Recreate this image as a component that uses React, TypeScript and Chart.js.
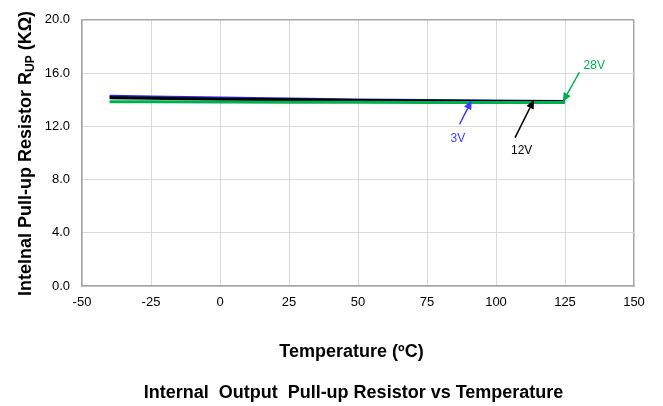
import { useEffect, useRef } from "react";
import { Chart, registerables } from "chart.js";

Chart.register(...registerables);

const FONT = '"Liberation Sans", Arial, sans-serif';

// Data (temperature in °C, resistance in kΩ)
const temperatures = [-40, -25, 0, 25, 50, 75, 100, 125];
const r3V = [14.25, 14.2, 14.12, 14.05, 13.98, 13.93, 13.89, 13.86];
const r12V = [14.15, 14.1, 14.04, 13.99, 13.94, 13.9, 13.87, 13.85];
const r28V = [13.85, 13.84, 13.82, 13.81, 13.8, 13.79, 13.78, 13.78];

const seriesNames = ["3V", "12V", "28V"];
const seriesColors = ["#2a2ad6", "#000000", "#00b050"];
const labelColors = ["#3c3cff", "#000000", "#00b050"];
const drawOrder = [3, 2, 1];

// Annotation callouts in data coordinates: label position, arrow tail, arrow tip
const labelX = [86.2, 109.3, 135.6];
const labelY = [11.08, 10.16, 16.56];
const tailX = [86.8, 106.9, 130.2];
const tailY = [12.15, 11.15, 16.06];
const tipX = [91.2, 113.8, 124.2];
const tipY = [13.95, 14.0, 13.83];

const xMin = -50, xMax = 150, xStep = 25;
const yMin = 0, yMax = 20, yStep = 4;

const yTitleMain = "Intelnal Pull-up Resistor R";
const yTitleSub = "UP";
const yTitleEnd = " (KΩ)";
const xTitle = "Temperature (ºC)";
const chartTitle = "Internal  Output  Pull-up Resistor vs Temperature";

const overlayPlugin = {
  id: "overlay",
  afterDatasetsDraw(chart: any) {
    const ctx = chart.ctx;
    const xs = chart.scales.x;
    const ys = chart.scales.y;
    ctx.save();
    for (let i = 0; i < seriesNames.length; i++) {
      const x1 = xs.getPixelForValue(tailX[i]);
      const y1 = ys.getPixelForValue(tailY[i]);
      const x2 = xs.getPixelForValue(tipX[i]);
      const y2 = ys.getPixelForValue(tipY[i]);
      const ang = Math.atan2(y2 - y1, x2 - x1);
      const head = 9;
      const hw = 4;
      const bx = x2 - head * Math.cos(ang);
      const by = y2 - head * Math.sin(ang);
      ctx.strokeStyle = labelColors[i];
      ctx.fillStyle = labelColors[i];
      ctx.lineWidth = 1.5;
      ctx.beginPath();
      ctx.moveTo(x1, y1);
      ctx.lineTo(bx, by);
      ctx.stroke();
      ctx.beginPath();
      ctx.moveTo(x2, y2);
      ctx.lineTo(bx + hw * Math.sin(ang), by - hw * Math.cos(ang));
      ctx.lineTo(bx - hw * Math.sin(ang), by + hw * Math.cos(ang));
      ctx.closePath();
      ctx.fill();
      ctx.font = `12px ${FONT}`;
      ctx.textAlign = "center";
      ctx.textBaseline = "middle";
      ctx.fillText(seriesNames[i], xs.getPixelForValue(labelX[i]), ys.getPixelForValue(labelY[i]));
    }
    ctx.restore();
  },
  afterDraw(chart: any) {
    const ctx = chart.ctx;
    const area = chart.chartArea;
    ctx.save();
    ctx.fillStyle = "#000";
    // Y title with subscript
    const fMain = `bold 18px ${FONT}`;
    const fSub = `bold 12px ${FONT}`;
    ctx.font = fMain;
    const w1 = ctx.measureText(yTitleMain).width;
    const w3 = ctx.measureText(yTitleEnd).width;
    ctx.font = fSub;
    const w2 = ctx.measureText(yTitleSub).width;
    const total = w1 + w2 + w3;
    const cx = 26;
    const cy = 153.5;
    ctx.translate(cx, cy);
    ctx.rotate(-Math.PI / 2);
    ctx.textAlign = "left";
    ctx.textBaseline = "middle";
    let x = -total / 2;
    ctx.font = fMain;
    ctx.fillText(yTitleMain, x, 0);
    x += w1;
    ctx.font = fSub;
    ctx.fillText(yTitleSub, x, 5);
    x += w2;
    ctx.font = fMain;
    ctx.fillText(yTitleEnd, x, 0);
    ctx.restore();
    ctx.save();
    ctx.fillStyle = "#000";
    ctx.font = `bold 18px ${FONT}`;
    ctx.textAlign = "center";
    ctx.textBaseline = "middle";
    ctx.fillText(xTitle, (area.left + area.right) / 2 - 6.5, area.bottom + 66);
    ctx.fillText(chartTitle, (area.left + area.right) / 2 - 4.5, area.bottom + 107);
    ctx.restore();
  },
};

export default function App() {
  const ref = useRef<HTMLCanvasElement | null>(null);
  useEffect(() => {
    document.body.style.margin = "0";
    if (!ref.current) return;
    const mk = (vals: number[]) => temperatures.map((t, i) => ({ x: t, y: vals[i] }));
    const allSeries = [r3V, r12V, r28V];
    const chart = new Chart(ref.current, {
      type: "scatter",
      data: {
        datasets: allSeries.map((vals, i) => ({
          label: seriesNames[i],
          data: mk(vals),
          showLine: true,
          borderColor: seriesColors[i],
          backgroundColor: seriesColors[i],
          borderWidth: 3,
          pointRadius: 0,
          tension: 0,
          order: drawOrder[i],
        })),
      },
      options: {
        animation: false,
        responsive: false,
        devicePixelRatio: 1,
        layout: { padding: { left: 0, top: 17, right: 29, bottom: 0 } },
        plugins: { legend: { display: false }, tooltip: { enabled: false }, title: { display: false } },
        scales: {
          x: {
            type: "linear",
            min: xMin,
            max: xMax,
            ticks: { stepSize: xStep, color: "#000", font: { family: FONT, size: 13 }, padding: 9, maxRotation: 0 },
            grid: {
              drawTicks: false,
              color: (c: any) => (c.tick && c.tick.value === xMax ? "#a6a6a6" : "#d9d9d9"),
              lineWidth: (c: any) => (c.tick && c.tick.value === xMax ? 1.5 : 1),
            },
            border: { color: "#a6a6a6", width: 1.5 },
            afterFit: (s: any) => { s.height = 120; },
          },
          y: {
            type: "linear",
            min: yMin,
            max: yMax,
            ticks: {
              stepSize: yStep,
              color: "#000",
              font: { family: FONT, size: 13 },
              padding: 12,
              callback: (v: any) => Number(v).toFixed(1),
            },
            grid: {
              drawTicks: false,
              color: (c: any) => (c.tick && c.tick.value === yMax ? "#a6a6a6" : "#d9d9d9"),
              lineWidth: (c: any) => (c.tick && c.tick.value === yMax ? 1.5 : 1),
            },
            border: { color: "#a6a6a6", width: 1.5 },
            afterFit: (s: any) => { s.width = 82; },
          },
        },
      } as any,
      plugins: [overlayPlugin],
    });
    return () => chart.destroy();
  }, []);
  return (
    <div style={{ width: 663, height: 406, background: "#fff" }}>
      <canvas ref={ref} width={663} height={406} style={{ display: "block" }} />
    </div>
  );
}
